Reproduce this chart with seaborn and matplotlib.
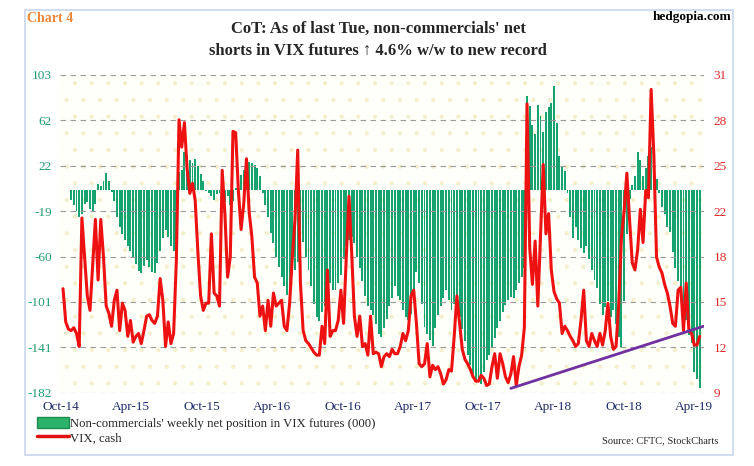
import numpy as np
import pandas as pd
import seaborn as sns
import matplotlib.pyplot as plt
import matplotlib.dates as mdates
from matplotlib.patches import Patch, Rectangle
from matplotlib.lines import Line2D

# weekly data, Tuesdays, Oct-2014 .. Apr-2019
week_dates = pd.date_range("2014-10-07", periods=237, freq="7D")

# non-commercials' net position in VIX futures (000)
net_position = [
    0, 0, 0, -9, -14, -19, -24, -22, -13, -11,
    -17, -20, -13, 5, 3, 8, 15, 8, -2, -10,
    -24, -33, -40, -45, -50, -55, -61, -67, -73, -75,
    -68, -63, -69, -74, -75, -66, -55, -43, -36, -42,
    -50, -55, -62, 16, 18, 34, 31, 27, 24, 28,
    21, 14, 8, -1, -3, -6, -9, -4, -3, -9,
    -11, -6, -14, -10, 2, 7, 13, 18, 20, 25,
    24, 22, 20, 12, -3, -14, -24, -39, -48, -60,
    -69, -78, -86, -94, -87, -76, -72, -65, -55, -47,
    -60, -72, -86, -102, -114, -118, -110, -104, -95, -84,
    -90, -90, -84, -76, -62, -50, -45, -42, -48, -60,
    -70, -82, -95, -104, -108, -112, -120, -129, -132, -124,
    -116, -104, -97, -86, -95, -99, -108, -114, -117, -111,
    -90, -74, -84, -102, -123, -129, -135, -140, -124, -112,
    -104, -97, -90, -99, -108, -102, -104, -114, -125, -136,
    -148, -157, -165, -172, -171, -174, -163, -153, -148, -142,
    -133, -124, -118, -110, -103, -99, -96, -97, -90, -84,
    -78, -70, 84, 75, 58, 50, 76, 66, 52, 70,
    74, 78, 93, 60, 30, 21, 17, -3, -24, -43,
    -33, -45, -52, -57, -50, -62, -72, -81, -88, -102,
    -112, -105, -100, -114, -108, -120, -132, -141, -100, -40,
    -8, 4, 12, 34, 27, 12, 20, 30, 38, 22,
    10, -3, -15, -22, -33, -38, -56, -70, -82, -92,
    -105, -117, -130, -137, -163, -170, -178,
]

# VIX cash, weekly
vix_cash = [
    16.2, 13.9, 13.4, 13.3, 13.5, 13.1, 12.2, 21.1, 18.4, 15.7,
    14.7, 17.9, 21.0, 16.8, 21.0, 18.4, 15.0, 14.5, 13.6, 15.4,
    16.1, 13.3, 15.2, 14.7, 12.9, 14.0, 12.5, 12.9, 13.1, 12.4,
    13.3, 14.3, 14.4, 14.0, 13.8, 14.3, 16.9, 15.4, 12.2, 13.9,
    12.4, 13.1, 18.1, 27.9, 26.0, 27.7, 24.5, 22.8, 23.5, 22.3,
    18.7, 15.7, 14.7, 15.2, 15.2, 20.0, 15.9, 15.7, 15.0, 24.4,
    21.4, 17.0, 18.4, 27.1, 27.0, 23.0, 20.3, 22.1, 25.2, 21.5,
    19.8, 17.0, 16.6, 14.3, 15.0, 13.3, 15.4, 13.6, 15.9, 15.0,
    15.2, 15.4, 13.6, 13.3, 15.2, 18.4, 21.0, 25.8, 16.6, 13.3,
    12.6, 12.4, 12.1, 11.8, 11.6, 11.6, 13.6, 12.4, 17.5, 12.9,
    13.3, 13.3, 14.0, 16.1, 13.8, 18.4, 22.6, 18.7, 14.3, 12.9,
    14.3, 12.2, 12.4, 11.6, 14.3, 11.7, 11.8, 11.7, 10.8, 11.5,
    11.7, 11.5, 12.0, 11.7, 11.7, 12.2, 13.1, 12.6, 13.3, 15.7,
    16.1, 13.8, 11.0, 10.8, 11.0, 12.4, 10.1, 10.9, 10.6, 10.8,
    10.3, 9.6, 9.9, 10.6, 10.5, 12.9, 15.7, 13.8, 12.0, 11.3,
    11.0, 10.6, 10.1, 9.8, 9.8, 10.2, 10.0, 9.5, 9.6, 10.8,
    11.7, 10.0, 11.7, 11.0, 10.1, 9.7, 10.3, 11.5, 9.5, 10.8,
    11.6, 13.5, 29.0, 19.0, 16.5, 19.5, 15.0, 20.0, 24.8, 20.0,
    21.4, 17.5, 16.0, 15.5, 15.2, 13.1, 13.6, 13.3, 12.9, 12.6,
    12.2, 12.4, 14.0, 16.1, 12.6, 12.2, 13.1, 12.6, 12.2, 13.1,
    12.3, 13.3, 15.2, 12.9, 12.0, 12.2, 15.2, 19.8, 21.6, 24.2,
    21.0, 18.0, 17.5, 18.9, 21.7, 19.4, 23.0, 22.5, 30.0, 25.5,
    18.4, 17.7, 17.3, 16.5, 15.9, 15.0, 13.8, 13.6, 16.1, 16.3,
    13.3, 16.6, 13.3, 13.1, 12.3, 12.3, 12.9,
]

# hand-drawn support line under VIX lows
trend_dates = pd.to_datetime(["2017-12-12", "2019-04-26"])
trend_vix = [9.3, 13.6]

left_ticks = np.linspace(-182, 103, 8)
right_ticks = np.linspace(9, 31, 8)
tick_months = pd.date_range("2014-10-01", "2019-04-01", freq="6MS")

sns.set_style("white")
plt.rcParams["font.family"] = ["Liberation Serif", "DejaVu Serif"]
plt.rcParams["hatch.linewidth"] = 0.6

df = pd.DataFrame({"x": mdates.date2num(week_dates), "net": net_position, "vix": vix_cash})

fig = plt.figure(figsize=(7.54, 4.66), dpi=100)
fig.patches.append(Rectangle((25 / 754, 1 - 455 / 466), 708 / 754, 445 / 466,
                             transform=fig.transFigure, facecolor="white",
                             edgecolor="#c8d6ec", lw=1.2, zorder=-1))

ax = fig.add_axes([0.080, 0.1573, 0.8537, 0.6818])
ax.set_facecolor("#fffffa")
ax.add_patch(Rectangle((0, 0), 1, 1, transform=ax.transAxes, facecolor="none",
                       edgecolor="#f3efcc", hatch=".", lw=0, zorder=0))

sns.barplot(data=df, x="x", y="net", native_scale=True, width=0.72,
            color="#15a370", saturation=1, linewidth=0,
            errorbar=None, ax=ax)

ax2 = ax.twinx()
sns.lineplot(data=df, x="x", y="vix", color="#ee1111", lw=2.2, ax=ax2)
sns.lineplot(x=mdates.date2num(trend_dates), y=trend_vix, color="#7030a0", lw=2.0, ax=ax2)

x0 = mdates.date2num(week_dates[0])
ax.set_xlim(x0 - 7, x0 + 7 * 237.6)
ax.set_ylim(-182, 103)
ax2.set_ylim(9, 31)

ax.set_yticks(left_ticks)
ax.set_yticklabels([f"{round(v)}" for v in left_ticks], color="#1e9e6e", fontsize=9.5)
ax2.set_yticks(right_ticks)
ax2.set_yticklabels([f"{round(v)}" for v in right_ticks], color="#e02a2a", fontsize=9.5)
ax.set_xticks(mdates.date2num(tick_months))
ax.set_xticklabels([d.strftime("%b-%y") for d in tick_months], color="#1d2b6b", fontsize=9.5)

ax.yaxis.grid(True, ls=(0, (5, 4)), color="#9a9a9a", lw=0.8)
ax.xaxis.grid(False)
ax.set_axisbelow(False)
ax.tick_params(axis="both", length=0)
ax.tick_params(axis="y", pad=6)
ax.tick_params(axis="x", pad=6)
ax2.tick_params(axis="y", length=0, pad=7)
for a in (ax, ax2):
    for s in a.spines.values():
        s.set_visible(False)
    a.set_xlabel("")
    a.set_ylabel("")

# title and header texts
fig.text(27 / 754, 1 - 18 / 466, "Chart 4", color="#f0883a", fontsize=10,
         fontweight="bold", va="center", ha="left")
fig.text(731 / 754, 1 - 17 / 466, "hedgopia.com", color="black", fontsize=9.5,
         fontweight="bold", va="center", ha="right")
fig.text(378 / 754, 1 - 29 / 466, "CoT: As of last Tue, non-commercials' net",
         fontsize=12, fontweight="bold", ha="center", va="center")
fig.text(378 / 754, 1 - 51 / 466, "shorts in VIX futures \u2191 4.6% w/w to new record",
         fontsize=12, fontweight="bold", ha="center", va="center")

handles = [Patch(facecolor="#2bb36b", edgecolor="#1e8a4e"),
           Line2D([], [], color="#e01010", lw=2.5)]
labels = ["Non-commercials' weekly net position in VIX futures (000)", "VIX, cash"]
fig.legend(handles, labels, loc="upper left", bbox_to_anchor=(37 / 754, 1 - 417 / 466),
           frameon=False, fontsize=9.2, handlelength=2.5, handleheight=0.9,
           handletextpad=0.1, labelspacing=0.15, borderaxespad=0, borderpad=0)
fig.text(718 / 754, 1 - 441 / 466, "Source: CFTC, StockCharts", fontsize=7.5,
         ha="right", va="center")

plt.savefig("out.png", dpi=100)
